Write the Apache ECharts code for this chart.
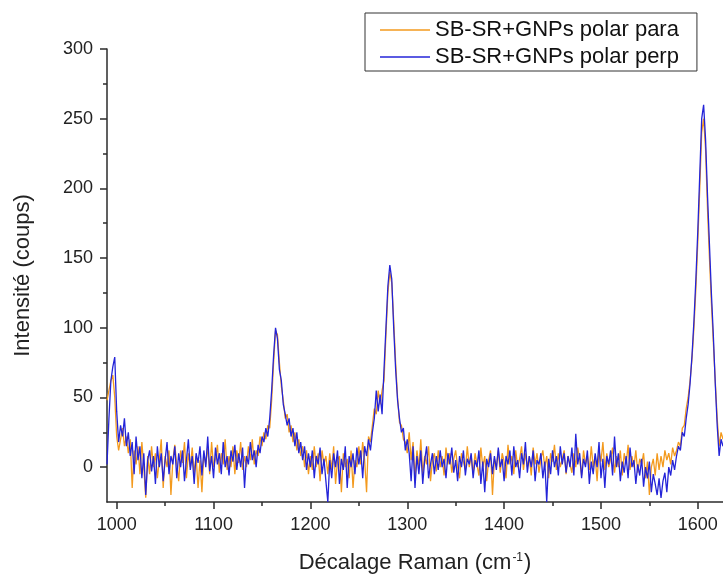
<!DOCTYPE html>
<html>
<head>
<meta charset="utf-8">
<script src="https://cdn.jsdelivr.net/npm/echarts@6/dist/echarts.min.js"></script>
<style>
html,body{margin:0;padding:0;background:#fff;}
#chart{width:723px;height:579px;}
</style>
</head>
<body>
<div id="chart"></div>
<script>
// Raman shift sampling (cm-1): 990 to 1626, one point every 2 cm-1
const shiftStart = 990;
const shiftStep = 2;

// Intensity, polarisation parallel (orange), rows of 10 points = 20 cm-1 each
const polarPara = [
  48, 55, 62, 66, 50, 22, 12, 20, 28, 15,      // 990
  22, 10, 20, -15, 12, 2, 15, -5, 18, 0,       // 1010
  -22, 8, -5, 15, 0, 10, -8, 5, 20, -15,       // 1030
  8, 0, 12, -20, 5, 16, 2, -10, 12, 3,         // 1050
  18, -8, 10, 0, 14, -5, 8, -15, 5, -18,       // 1070
  10, 2, 15, -5, 18, 0, 6, 16, -4, 10,         // 1090
  2, 20, -2, 8, 0, 15, -5, 12, 3, 18,          // 1110
  -2, 8, 0, 15, 5, 20, 2, 12, 8, 22,           // 1130
  15, 25, 20, 30, 28, 48, 75, 98, 95, 75,      // 1150
  58, 48, 35, 38, 25, 30, 18, 25, 12, 20,      // 1170
  8, 15, 0, 12, -5, 8, -2, 15, 0, 10,          // 1190
  -10, 12, 2, 8, -5, 10, -2, 15, -12, 5,       // 1210
  8, -18, 10, 0, 6, -8, 12, -15, 5, 0,         // 1230
  15, 2, 18, 5, -18, 22, 18, 30, 42, 38,       // 1250
  55, 45, 55, 62, 95, 125, 140, 132, 105, 75,  // 1270
  50, 32, 30, 20, 18, 10, 25, 5, 18, -8,       // 1290
  12, 0, 20, -5, 8, 2, 15, -10, 5, 10,         // 1310
  -3, 12, 0, 8, -6, 14, 2, 10, -4, 6,          // 1330
  12, 0, -8, 10, 4, -2, 15, 0, 8, -5,          // 1350
  10, 2, -6, 14, 0, 8, -10, 5, 12, -20,        // 1370
  6, 0, 12, -4, 10, 4, -8, 16, 2, 8,           // 1390
  -5, 12, 0, 6, 15, -2, 10, 0, 8, -6,          // 1410
  14, 2, 10, -4, 6, 12, 0, 8, -8, 10,          // 1430
  4, 16, -2, 10, 0, 6, 12, -5, 8, 2,           // 1450
  -4, 10, 0, 14, 6, -6, 12, 2, 8, -2,          // 1470
  15, 0, 8, -10, 12, 4, 18, -2, 10, 0,         // 1490
  6, 14, -4, 8, 0, 12, -6, 10, 2, 16,          // 1510
  -2, 8, 0, 12, -4, 6, 2, 10, -8, 4,           // 1530
  -20, 0, 6, -6, 10, -2, 8, 0, 12, 5,          // 1550
  10, 2, 14, 8, 12, 18, 15, 28, 30, 42,        // 1570
  50, 62, 78, 100, 128, 162, 200, 240, 250, 228, // 1590
  185, 150, 118, 90, 62, 35, 15, 25, 20        // 1610
];

// Intensity, polarisation perpendicular (blue)
const polarPerp = [
  2, 35, 62, 72, 79, 40, 18, 30, 22, 35,       // 990
  15, 25, 8, 18, -5, 22, 5, 15, -8, 10,        // 1010
  -20, 5, 12, -3, 8, -12, 15, 0, 10, -10,      // 1030
  5, 18, -5, 8, 2, 15, -8, 10, 0, 12,          // 1050
  -10, 5, 20, -2, 8, -12, 10, 3, 15, -6,       // 1070
  12, 0, 22, -3, 8, -8, 14, 2, 10, -5,         // 1090
  18, 0, 8, -6, 12, 4, 16, -2, 10, 0,          // 1110
  14, -15, 8, 2, 18, 5, 12, 0, 16, 10,         // 1130
  22, 18, 28, 22, 35, 55, 80, 100, 92, 70,     // 1150
  62, 45, 38, 30, 35, 22, 28, 15, 25, 10,      // 1170
  18, 5, 15, -2, 10, 0, 12, -8, 8, 2,          // 1190
  14, -5, 6, -10, -25, 5, -8, 10, 0, 12,       // 1210
  -12, 6, -2, 15, -15, 8, 0, 10, -5, 14,       // 1230
  2, 12, -8, 15, 8, 20, 12, 25, 35, 55,        // 1250
  40, 52, 38, 70, 100, 130, 145, 135, 100, 70, // 1270
  48, 35, 25, 28, 12, 20, 10, -10, 15, -15,    // 1290
  8, -5, 12, -12, 5, 15, -8, 2, 10, -5,        // 1310
  8, -2, 12, 0, 6, -8, 10, 2, 14, -4,          // 1330
  5, -10, 8, 0, 12, -6, 6, 2, 10, -8,          // 1350
  5, 0, 12, -12, 4, -18, 6, 0, 10, -5,         // 1370
  8, -2, 14, 0, 6, -10, 8, 2, 12, -6,          // 1390
  15, 0, 5, -8, 10, 2, 18, -4, 8, 0,           // 1410
  12, -10, 5, 2, 10, -8, 4, -25, 6, -5,        // 1430
  12, 0, 8, -6, 15, 2, 10, -4, 8, 0,           // 1450
  14, -6, 24, 2, 10, -8, 6, 0, 12, -12,        // 1470
  4, -5, 10, 0, 18, -8, 6, -15, 8, 2,          // 1490
  12, -6, 22, 0, 10, -10, 4, -4, 8, -8,        // 1510
  14, 0, 5, -12, 2, -6, 6, -14, 0, -8,         // 1530
  4, -18, -5, -12, -20, -8, -22, -10, -4, -18, // 1550
  0, -6, 5, -2, 8, 15, 12, 25, 22, 35,         // 1570
  45, 60, 80, 105, 135, 170, 210, 250, 260, 235, // 1590
  195, 160, 125, 95, 60, 30, 8, 20, 15         // 1610
];

const seriesNames = ['SB-SR+GNPs polar para', 'SB-SR+GNPs polar perp'];
const xTickLabels = [1000, 1100, 1200, 1300, 1400, 1500, 1600];
const xMinorTicks = [1050, 1150, 1250, 1350, 1450, 1550];
const yTickLabels = [0, 50, 100, 150, 200, 250, 300];
const yMinorTicks = [25, 75, 125, 175, 225, 275];

function pairs(vals) {
  return vals.map((v, i) => [shiftStart + shiftStep * i, v]);
}

const FONT = 'Arial, "Liberation Sans", sans-serif';
const AXC = '#2b2b2b';

const chart = echarts.init(document.getElementById('chart'), null, {renderer: 'canvas'});
chart.setOption({
  animation: false,
  backgroundColor: '#ffffff',
  grid: {left: 107, top: 49, right: 0, bottom: 76, containLabel: false},
  legend: {
    orient: 'vertical',
    left: 365, top: 13,
    data: seriesNames,
    icon: 'rect',
    itemWidth: 50, itemHeight: 1.5, itemGap: 5,
    padding: [6, 18, 3, 15],
    borderColor: '#333', borderWidth: 1,
    backgroundColor: '#fff',
    textStyle: {fontFamily: FONT, fontSize: 22, color: '#111', lineHeight: 22}
  },
  xAxis: [{
    type: 'value', min: 990, max: 1626,
    name: 'Décalage Raman (cm{sup|-1})',
    nameLocation: 'middle', nameGap: 50,
    nameTextStyle: {fontFamily: FONT, fontSize: 22, color: '#222',
      rich: {sup: {fontFamily: FONT, fontSize: 12, color: '#222', verticalAlign: 'top', padding: [0, 1, 8, 1]}}},
    axisLine: {show: true, onZero: false, lineStyle: {color: AXC, width: 1.5}},
    axisTick: {show: true, customValues: xTickLabels, length: 7, lineStyle: {color: AXC, width: 1.5}},
    axisLabel: {customValues: xTickLabels, formatter: v => String(v), fontFamily: FONT, fontSize: 18, color: '#222', margin: 14},
    splitLine: {show: false}
  }, {
    type: 'value', min: 990, max: 1626, position: 'bottom',
    axisLine: {show: false, onZero: false},
    axisTick: {show: true, customValues: xMinorTicks, length: 4, lineStyle: {color: AXC, width: 1.5}},
    axisLabel: {show: false},
    splitLine: {show: false}
  }],
  yAxis: [{
    type: 'value', min: -25, max: 300,
    name: 'Intensité (coups)',
    nameLocation: 'middle', nameGap: 73,
    nameTextStyle: {fontFamily: FONT, fontSize: 22, color: '#222'},
    axisLine: {show: true, onZero: false, lineStyle: {color: AXC, width: 1.5}},
    axisTick: {show: true, customValues: yTickLabels, length: 7, lineStyle: {color: AXC, width: 1.5}},
    axisLabel: {customValues: yTickLabels, formatter: v => String(v), fontFamily: FONT, fontSize: 18, color: '#222', margin: 14},
    splitLine: {show: false}
  }, {
    type: 'value', min: -25, max: 300, position: 'left',
    axisLine: {show: false, onZero: false},
    axisTick: {show: true, customValues: yMinorTicks, length: 4, lineStyle: {color: AXC, width: 1.5}},
    axisLabel: {show: false},
    splitLine: {show: false}
  }],
  series: [{
    name: seriesNames[0], type: 'line', xAxisIndex: 0, yAxisIndex: 0,
    data: pairs(polarPara), symbol: 'none', clip: true,
    color: '#F39A1E', lineStyle: {color: '#F39A1E', width: 1.3}
  }, {
    name: seriesNames[1], type: 'line', xAxisIndex: 0, yAxisIndex: 0,
    data: pairs(polarPerp), symbol: 'none', clip: true,
    color: '#2424D8', lineStyle: {color: '#2424D8', width: 1.3}
  }]
});
</script>
</body>
</html>
